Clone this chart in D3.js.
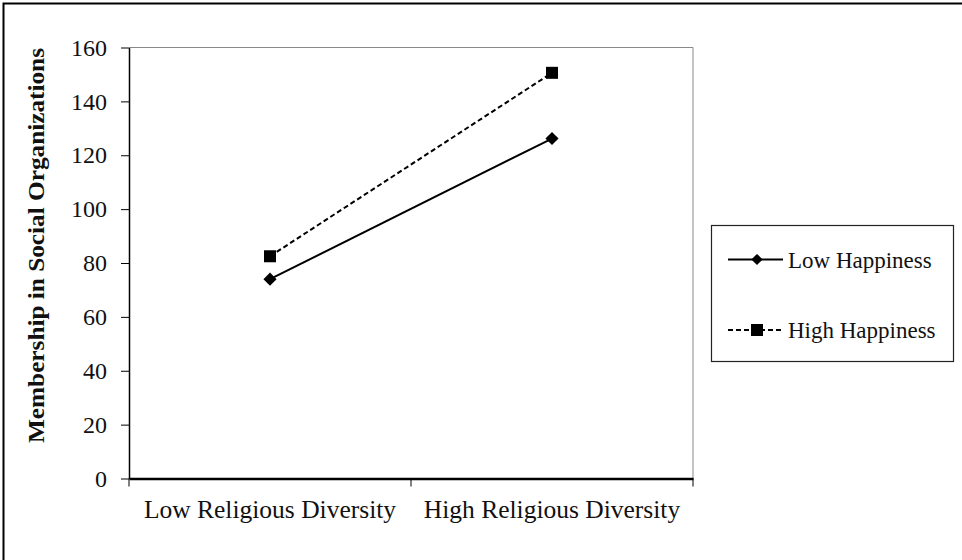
<!DOCTYPE html>
<html><head><meta charset="utf-8">
<script src="https://cdn.jsdelivr.net/npm/d3@7"></script>
<style>body{margin:0;background:#fff}svg{display:block}</style>
</head><body>
<svg id="c" width="962" height="560"></svg>
<script>
const categories = ["Low Religious Diversity", "High Religious Diversity"];
const seriesNames = ["Low Happiness", "High Happiness"];
const lowHappiness = [74, 126.2];
const highHappiness = [82.5, 150.6];
const yTicks = [0, 20, 40, 60, 80, 100, 120, 140, 160];
const yTitle = "Membership in Social Organizations";

const svg = d3.select("#c");
const font = "'Liberation Serif','Times New Roman',serif";
const m = {l:129, r:693, t:47.5, b:478.5};

// outer border
svg.append("rect").attr("x",3.5).attr("y",3.5).attr("width",1000).attr("height",1000)
  .attr("fill","none").attr("stroke","#000").attr("stroke-width",2);

const x = d3.scaleBand().domain(categories).range([m.l, m.r]);
const y = d3.scaleLinear().domain([0,160]).range([m.b, m.t]);

// plot area gray frame (top & right)
svg.append("path").attr("d",`M${m.l},${m.t}H${m.r}V${m.b}`).attr("fill","none").attr("stroke","#888").attr("stroke-width",1);

// y axis
const ya = svg.append("g").attr("transform",`translate(${m.l},0)`)
  .call(d3.axisLeft(y).tickValues(yTicks).tickSize(8).tickPadding(14).tickSizeOuter(0));
ya.select(".domain").attr("stroke","#000").attr("stroke-width",1.5);
ya.selectAll("line").attr("stroke","#000");
ya.selectAll("text").attr("font-family",font).attr("font-size",24).attr("fill","#111");

// x axis
const xa = svg.append("g").attr("transform",`translate(0,${m.b})`)
  .call(d3.axisBottom(x).tickSize(0).tickPadding(21));
xa.select(".domain").attr("stroke","#000").attr("stroke-width",2.5);
xa.selectAll("text").attr("font-family",font).attr("font-size",25.5).attr("fill","#111");
// category boundary ticks
const bounds = [m.l, x(categories[1]), m.r];
svg.append("g").selectAll("line").data(bounds).join("line")
  .attr("x1",d=>d).attr("x2",d=>d).attr("y1",m.b).attr("y2",m.b+8).attr("stroke","#000").attr("stroke-width",1);

// y title
svg.append("text").attr("transform",`translate(44,245.5) rotate(-90)`)
  .attr("text-anchor","middle").attr("font-family",font).attr("font-weight","bold")
  .attr("font-size",24).attr("textLength",395).attr("lengthAdjust","spacingAndGlyphs")
  .attr("fill","#111").text(yTitle);

const cx = c => x(c) + x.bandwidth()/2;
const line = d3.line().x((d,i)=>cx(categories[i])).y(d=>y(d));

svg.append("path").datum(lowHappiness).attr("d",line).attr("fill","none").attr("stroke","#000").attr("stroke-width",2);
svg.append("path").datum(highHappiness).attr("d",line).attr("fill","none").attr("stroke","#000").attr("stroke-width",2).attr("stroke-dasharray","5,3");

const diamond = d3.symbol().type(d3.symbolDiamond2).size(110);
svg.append("g").selectAll("path").data(lowHappiness).join("path")
  .attr("d",diamond).attr("transform",(d,i)=>`translate(${cx(categories[i])},${y(d)})`).attr("fill","#000");
svg.append("g").selectAll("rect").data(highHappiness).join("rect")
  .attr("x",(d,i)=>cx(categories[i])-6).attr("y",d=>y(d)-6).attr("width",12).attr("height",12).attr("fill","#000");

// legend
const lg = svg.append("g");
lg.append("rect").attr("x",711.5).attr("y",225.5).attr("width",242).attr("height",136)
  .attr("fill","#fff").attr("stroke","#222").attr("stroke-width",1.2);
const ly = [259.5, 330];
seriesNames.forEach((name,i)=>{
  lg.append("line").attr("x1",728).attr("x2",783).attr("y1",ly[i]).attr("y2",ly[i])
    .attr("stroke","#000").attr("stroke-width",2).attr("stroke-dasharray", i===1?"5,3":null);
  if(i===0) lg.append("path").attr("d",d3.symbol().type(d3.symbolDiamond2).size(80)).attr("transform",`translate(757,${ly[i]})`).attr("fill","#000");
  else lg.append("rect").attr("x",751).attr("y",ly[i]-6).attr("width",12).attr("height",12).attr("fill","#000");
  lg.append("text").attr("x",788).attr("y",ly[i]+8).attr("font-family",font).attr("font-size",23).attr("fill","#111").text(name);
});
</script>
</body></html>
